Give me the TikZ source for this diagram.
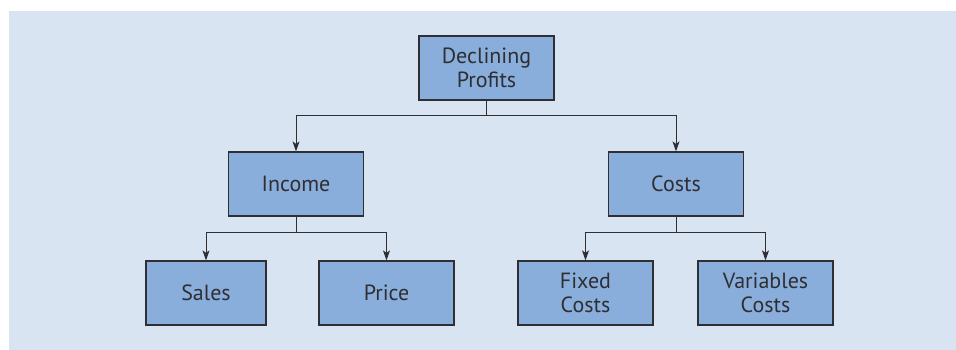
\documentclass[tikz,border=0pt]{standalone}
\usepackage{fontspec}
\setmainfont{PT Sans}
\usetikzlibrary{arrows.meta}
\definecolor{panelblue}{HTML}{D9E4F3}
\definecolor{boxblue}{HTML}{8AAEDB}
\definecolor{edgegray}{HTML}{2E2E33}
\begin{document}
\begin{tikzpicture}[x=1pt,y=-1pt,
  box/.style={draw=edgegray,line width=1.2pt,fill=boxblue,minimum height=64pt,
    inner sep=0pt,align=center,text=edgegray,
    font=\fontsize{22}{24}\selectfont},
  wide/.style={box,minimum width=135pt},
  narrow/.style={box,minimum width=120pt},
  link/.style={draw=edgegray,line width=1pt},
  arr/.style={link,-{Stealth[length=10pt,width=7pt,inset=2.5pt]}}]
% canvas and panel
\useasboundingbox (0,0) rectangle (956,350);
\fill[white] (0,0) rectangle (956,350);
\fill[panelblue] (9,11) rectangle (956,350);
% boxes
\node[wide] (top) at (486.5,68) {Declining\\Profits};
\node[wide] (inc) at (296,184) {Income};
\node[wide] (cst) at (676,184) {Costs};
\node[narrow] (sal) at (206,293) {Sales};
\node[wide] (pri) at (386.5,293) {Price};
\node[wide] (fix) at (585.5,293) {Fixed\\Costs};
\node[wide] (var) at (765.5,293) {Variables\\Costs};
% junction points
\coordinate (j1) at (486.5,116);
\coordinate (j2) at (296,232);
\coordinate (j3) at (676,232);
% connectors
\draw[link] (top.south) -- (j1);
\draw[arr] (j1) -| (inc.north);
\draw[arr] (j1) -| (cst.north);
\draw[link] (inc.south) -- (j2);
\draw[arr] (j2) -| (sal.north);
\draw[arr] (j2) -| (pri.north);
\draw[link] (cst.south) -- (j3);
\draw[arr] (j3) -| (fix.north);
\draw[arr] (j3) -| (var.north);
\end{tikzpicture}
\end{document}
